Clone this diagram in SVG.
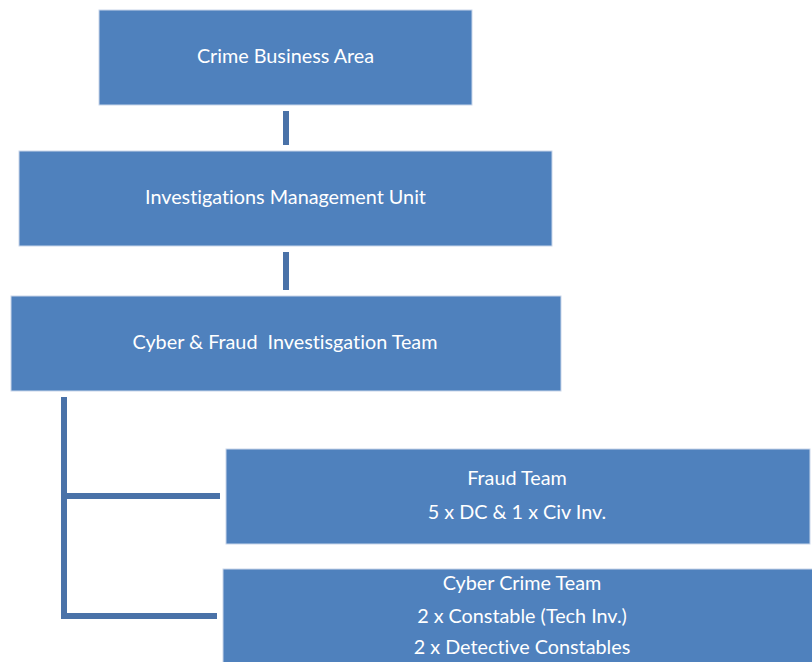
<svg xmlns="http://www.w3.org/2000/svg" width="812" height="662" viewBox="0 0 812 662">
<style>
.box{fill:#4F81BD;stroke:#C9D6EA;stroke-width:1}
.t{font-family:Lato,"Open Sans","Liberation Sans",sans-serif;font-size:19.8px;fill:#FFFFFF;text-anchor:middle;font-variant-ligatures:none;font-feature-settings:"liga" 0,"dlig" 0}
.c{stroke:#4A72A8;stroke-width:6;fill:none}
</style>
<rect width="812" height="662" fill="#FFFFFF"/>
<g id="connectors">
<line class="c" x1="286" y1="111" x2="286" y2="145"/>
<line class="c" x1="286" y1="252" x2="286" y2="290"/>
<path class="c" d="M64,397 V616 H217"/>
<line class="c" x1="64" y1="496" x2="220" y2="496"/>
</g>
<g id="crime-business-area">
<rect class="box" x="99" y="10" width="373" height="95"/>
<text class="t" x="285.5" y="63">Crime Business Area</text>
</g>
<g id="investigations-management-unit">
<rect class="box" x="19" y="151" width="533" height="95"/>
<text class="t" x="285.5" y="204">Investigations Management Unit</text>
</g>
<g id="cyber-fraud-team">
<rect class="box" x="11" y="296" width="550" height="95"/>
<text class="t" x="285" y="349" xml:space="preserve">Cyber &amp; Fraud  Investisgation Team</text>
</g>
<g id="fraud-team">
<rect class="box" x="226" y="449" width="584" height="95"/>
<text class="t" x="517" y="485">Fraud Team</text>
<text class="t" x="517" y="519">5 x DC &amp; 1 x Civ Inv.</text>
</g>
<g id="cyber-crime-team">
<rect class="box" x="223" y="569" width="592" height="100"/>
<text class="t" x="522" y="590">Cyber Crime Team</text>
<text class="t" x="522" y="623">2 x Constable (Tech Inv.)</text>
<text class="t" x="522" y="654">2 x Detective Constables</text>
</g>
</svg>
